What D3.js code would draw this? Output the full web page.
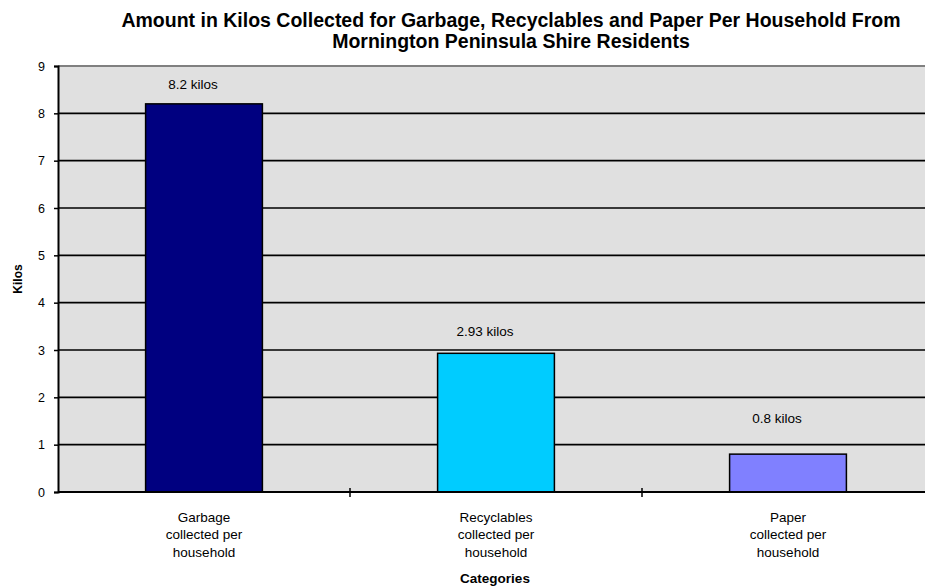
<!DOCTYPE html>
<html>
<head>
<meta charset="utf-8">
<script src="https://cdn.jsdelivr.net/npm/d3@7/dist/d3.min.js"></script>
<style>
  html, body { margin: 0; padding: 0; background: #ffffff; }
  svg { display: block; font-family: "Liberation Sans", Arial, sans-serif; }
</style>
</head>
<body>
<svg id="chart" width="925" height="588"></svg>
<script>
// Data
const categories = [
  ["Garbage", "collected per", "household"],
  ["Recyclables", "collected per", "household"],
  ["Paper", "collected per", "household"]
];
const kilos = [8.2, 2.93, 0.8];
const valueLabels = ["8.2 kilos", "2.93 kilos", "0.8 kilos"];
const barColors = ["#000080", "#00ccff", "#8080ff"];
const yTicks = [0, 1, 2, 3, 4, 5, 6, 7, 8, 9];
const titleLines = [
  "Amount in Kilos Collected for Garbage, Recyclables and Paper Per Household From",
  "Mornington Peninsula Shire Residents"
];

const svg = d3.select("#chart");
const plot = { left: 58, right: 934, top: 66, bottom: 492 };

const x = d3.scaleBand()
  .domain(d3.range(categories.length))
  .range([plot.left, plot.right])
  .paddingInner(0)
  .paddingOuter(0);

const y = d3.scaleLinear().domain([0, 9]).range([plot.bottom, plot.top]);

// Plot background
svg.append("rect")
  .attr("x", plot.left).attr("y", plot.top)
  .attr("width", plot.right - plot.left).attr("height", plot.bottom - plot.top)
  .attr("fill", "#e0e0e0");

// Horizontal gridlines
svg.append("g").selectAll("line")
  .data(yTicks.filter(d => d > 0 && d < 9))
  .join("line")
  .attr("x1", plot.left).attr("x2", plot.right)
  .attr("y1", d => y(d)).attr("y2", d => y(d))
  .attr("stroke", "#000").attr("stroke-width", 1.6);

// Top border of plot area
svg.append("line")
  .attr("x1", plot.left).attr("x2", plot.right)
  .attr("y1", y(9)).attr("y2", y(9))
  .attr("stroke", "#808080").attr("stroke-width", 2);

// Bars
const barW = x.bandwidth() * 0.4;
svg.append("g").selectAll("rect")
  .data(kilos)
  .join("rect")
  .attr("x", (d, i) => x(i) + (x.bandwidth() - barW) / 2)
  .attr("y", d => y(d))
  .attr("width", barW)
  .attr("height", d => y(0) - y(d))
  .attr("fill", (d, i) => barColors[i])
  .attr("stroke", "#000")
  .attr("stroke-width", 1.5);

// Value labels above bars
const labelLift = [20, 22, 36];
svg.append("g").selectAll("text")
  .data(kilos)
  .join("text")
  .attr("x", (d, i) => x(i) + x.bandwidth() / 2 - 11)
  .attr("y", (d, i) => y(d) - labelLift[i])
  .attr("dy", "0.35em")
  .attr("text-anchor", "middle")
  .attr("font-size", 13.5)
  .attr("fill", "#000")
  .text((d, i) => valueLabels[i]);

// Y axis
const yAxis = d3.axisLeft(y).tickValues(yTicks).tickSize(4).tickPadding(9).tickFormat(d3.format("d"));
const gy = svg.append("g").attr("transform", `translate(${plot.left},0)`).call(yAxis);
gy.select(".domain").attr("stroke", "#000").attr("stroke-width", 2);
gy.selectAll(".tick line").attr("stroke", "#000").attr("stroke-width", 1.5);
gy.selectAll(".tick text").attr("font-size", 12.5).attr("fill", "#000")
  .attr("font-family", "Liberation Sans, Arial, sans-serif");

// X axis baseline and category divider ticks
svg.append("line")
  .attr("x1", plot.left).attr("x2", plot.right)
  .attr("y1", y(0)).attr("y2", y(0))
  .attr("stroke", "#000").attr("stroke-width", 2);
svg.append("g").selectAll("line")
  .data(d3.range(1, categories.length))
  .join("line")
  .attr("x1", i => x(i)).attr("x2", i => x(i))
  .attr("y1", y(0) - 4).attr("y2", y(0) + 5)
  .attr("stroke", "#000").attr("stroke-width", 1.5);

// Category labels
const catG = svg.append("g").selectAll("text")
  .data(categories)
  .join("text")
  .attr("x", (d, i) => x(i) + x.bandwidth() / 2)
  .attr("y", 517)
  .attr("text-anchor", "middle")
  .attr("font-size", 13.5)
  .attr("fill", "#000");
catG.selectAll("tspan")
  .data(d => d)
  .join("tspan")
  .attr("x", function () { return d3.select(this.parentNode).attr("x"); })
  .attr("dy", (d, i) => i === 0 ? "0.35em" : "17.5px")
  .text(d => d);

// Axis titles
svg.append("text")
  .attr("x", 495)
  .attr("y", 578)
  .attr("dy", "0.35em")
  .attr("text-anchor", "middle")
  .attr("font-size", 13.5)
  .attr("font-weight", "bold")
  .text("Categories");

svg.append("text")
  .attr("transform", `translate(18,${(plot.top + plot.bottom) / 2}) rotate(-90)`)
  .attr("dy", "0.35em")
  .attr("text-anchor", "middle")
  .attr("font-size", 12)
  .attr("font-weight", "bold")
  .text("Kilos");

// Title
svg.append("g").selectAll("text")
  .data(titleLines)
  .join("text")
  .attr("x", 511)
  .attr("y", (d, i) => 20 + i * 21)
  .attr("dy", "0.35em")
  .attr("text-anchor", "middle")
  .attr("font-size", 19.5)
  .attr("font-weight", "bold")
  .text(d => d);
</script>
</body>
</html>
